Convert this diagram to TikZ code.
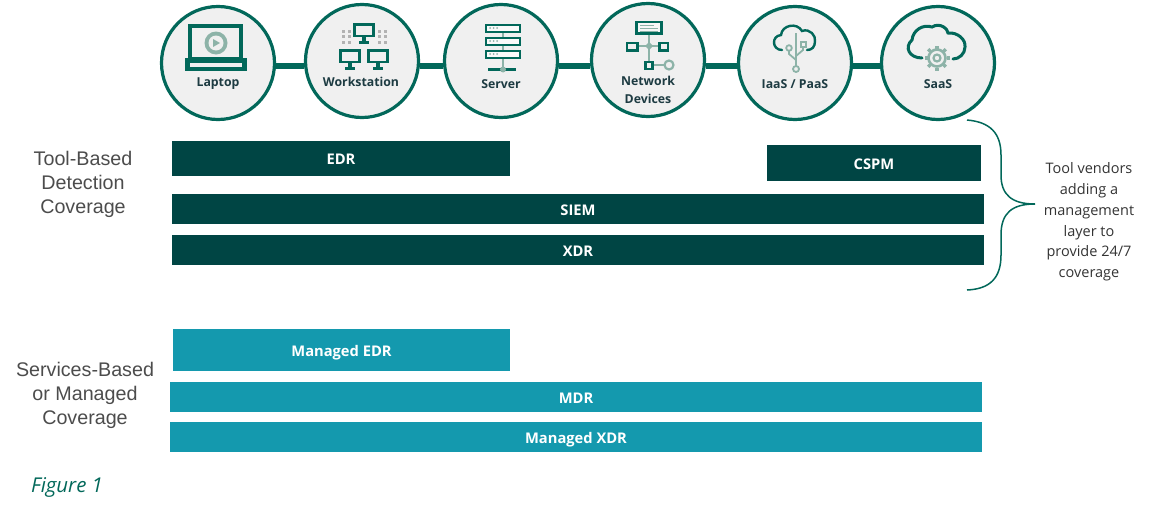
\documentclass[tikz,border=0pt]{standalone}
\usepackage{fontspec}
\setmainfont{Open Sans}
\newfontfamily\arialfont{Liberation Sans}
\usetikzlibrary{positioning}
\definecolor{ringgreen}{HTML}{02685A}
\definecolor{icongrey}{HTML}{8DB3A8}
\definecolor{bardark}{HTML}{004544}
\definecolor{barteal}{HTML}{1499AE}
\definecolor{labeltext}{HTML}{1D3B42}
\tikzset{asset node/.style={circle,draw=ringgreen,line width=3.2pt,fill=black!6,minimum size=113pt,inner sep=0pt}}
\tikzset{asset label/.style={font=\bfseries\fontsize{12.3}{17.5}\selectfont,text=labeltext,align=center,inner sep=0pt}}
\tikzset{tool bar/.style={fill=bardark,text=white,font=\bfseries\fontsize{14.7}{16}\selectfont,inner sep=0pt,text height=12pt,text depth=0pt}}
\tikzset{service bar/.style={fill=barteal,text=white,font=\bfseries\fontsize{14.7}{16}\selectfont,inner sep=0pt,text height=12pt,text depth=0pt}}
\tikzset{side label/.style={font=\arialfont\fontsize{19.7}{24}\selectfont,text=black!70,align=center,inner sep=0pt}}
\tikzset{icon line/.style={draw=ringgreen,line width=2.8pt}}
\tikzset{icon grey/.style={draw=icongrey,line width=1.8pt}}
\tikzset{link line/.style={draw=ringgreen,line width=6pt}}

\begin{document}
\begin{tikzpicture}[x=1pt,y=-1pt]
\useasboundingbox (0,0) rectangle (1161,525);

% circles for the assets
\node[asset node] (laptop) at (218,63) {};
\node[asset node] (workstation) at (362,61) {};
\node[asset node] (server) at (501,61) {};
\node[asset node] (network) at (648,60) {};
\node[asset node] (iaas) at (795,63) {};
\node[asset node] (saas) at (938,63) {};

% links between circles
\draw[link line] (laptop.east |- 0,66) -- (workstation.west |- 0,66);
\draw[link line] (workstation.east |- 0,66) -- (server.west |- 0,66);
\draw[link line] (server.east |- 0,66) -- (network.west |- 0,66);
\draw[link line] (network.east |- 0,66) -- (iaas.west |- 0,66);
\draw[link line] (iaas.east |- 0,66) -- (saas.west |- 0,66);

% circle labels
\node[asset label] (laptoptext) at (218,84) {Laptop};
\node[asset label] (workstationtext) at (361,82) {Workstation};
\node[asset label] (servertext) at (501,84) {Server};
\node[asset label] (networktext) at (648,90) {Network\\Devices};
\node[asset label] (iaastext) at (795,84) {IaaS / PaaS};
\node[asset label] (saastext) at (938,84) {SaaS};

% laptop icon
\draw[ringgreen,line width=3.6pt] (189.8,25.8) rectangle (241.2,59);
\fill[ringgreen] (185,58) rectangle (247,71);
\fill[black!6] (190,63) rectangle (242,67);
\fill[icongrey] (216,43) circle (11.5);
\fill[black!6] (216,43) circle (7.5);
\fill[icongrey] (213,39) -- (220,43) -- (213,47) -- cycle;

% workstation icon
\foreach \x/\y in {364/23,350/49,378/49}{
    \draw[icon line] (\x-9.5,\y+1.5) rectangle (\x+9.5,\y+13);
    \fill[ringgreen] (\x-2,\y+14) rectangle (\x+2,\y+18);
    \fill[ringgreen] (\x-5,\y+18) rectangle (\x+5,\y+21);
}
\foreach \x in {343,349,379,385}
\foreach \y in {31,36,42}{
    \fill[black!30] (\x-1.5,\y-1.5) rectangle (\x+1.5,\y+1.5);
}

% server icon
\draw[icon grey] (503,32) -- (503,69);
\foreach \y in {24,37,50}{
    \draw[ringgreen,line width=2pt,fill=black!2] (486,\y+0.5) rectangle (519.5,\y+7.5);
    \foreach \x in {490,493.5,497}{
        \fill[icongrey] (\x,\y+4) circle (1);
    }
}
\draw[ringgreen,line width=2.4pt] (488,69.5) -- (516,69.5);
\fill[icongrey] (503,69.5) circle (3);

% network icon
\draw[icon grey] (649,34) -- (649,61);
\draw[icon grey] (638,46) -- (658,46);
\draw[icon grey] (653,65) -- (664,65);
\draw[ringgreen,line width=2.4pt,fill=black!3] (636.5,22) rectangle (661.5,33.5);
\draw[icongrey,line width=0.8pt] (640,25) -- (654,25) (640,28) -- (658,28) (640,31) -- (658,31);
\draw[icon line,fill=black!6] (627,43) rectangle (637.5,50.5);
\draw[icon line,fill=black!6] (659.5,43) rectangle (668,50.5);
\draw[icon line,fill=black!6] (645.5,62) rectangle (652.5,69);
\fill[icongrey] (649,42) -- (653,46) -- (649,50) -- (645,46) -- cycle;
\draw[icon grey,line width=2.2pt,fill=black!6] (669,65) circle (4.5);

% iaas icon
\draw[icon line,line width=2.4pt,line cap=round] (782,50) .. controls (772,50) and (771,36) .. (781,35) .. controls (782,25) and (797,22) .. (802,31) .. controls (810,28) and (816,36) .. (815,41) .. controls (815,47) and (812,50) .. (807,50);
\draw[icon grey] (796,33) -- (796,66);
\draw[icon grey] (789,51) -- (789,54) -- (796,60);
\draw[icon grey] (803,47) -- (803,50) -- (796,56);
\draw[icon grey] (789,48) circle (2.8);
\draw[icon grey] (801,42) rectangle (806,47);
\draw[icon grey,fill=black!6] (796,69) circle (3);

% saas icon
\draw[ringgreen,line width=3pt,line cap=round] (922,58) .. controls (909,58) and (904,47) .. (912,40) .. controls (913,30) and (923,24) .. (932,27) .. controls (940,22) and (948,29) .. (948,33) .. controls (958,32) and (966,40) .. (965,47) .. controls (965,54) and (959,59) .. (953,59);
\foreach \a in {0,45,...,315}{
    \draw[icongrey,line width=3.4pt] (937,58) ++(\a:9.5) -- ++(\a:3);
}
\draw[icongrey,line width=2.6pt] (937,58) circle (8.5);
\draw[icongrey,line width=2.2pt] (937,58) circle (3.5);

% tool bars
\node[tool bar,minimum width=338pt,minimum height=35pt] (edr) at (341,158.5) {EDR};
\node[tool bar,minimum width=214pt,minimum height=36pt] (cspm) at (874,163) {CSPM};
\node[tool bar,minimum width=812pt,minimum height=30pt] (siem) at (578,209) {SIEM};
\node[tool bar,minimum width=812pt,minimum height=30pt] (xdr) at (578,250) {XDR};

% service bars
\node[service bar,minimum width=337pt,minimum height=42pt] (medr) at (341.5,350) {Managed EDR};
\node[service bar,minimum width=812pt,minimum height=30pt] (mdr) at (576,397) {MDR};
\node[service bar,minimum width=812pt,minimum height=30pt] (mxdr) at (576,437) {Managed XDR};

% left labels
\node[side label] (toolcover) at (83,184) {Tool-Based\\Detection\\Coverage};
\node[side label] (servicecover) at (85,395) {Services-Based\\or Managed\\Coverage};
\node[font=\itshape\fontsize{20.4}{22}\selectfont,text=ringgreen,inner sep=0pt] (figlabel) at (67,487) {Figure 1};

% brace and note
\node[font=\fontsize{14.5}{20.8}\selectfont,text=black!80,align=center,inner sep=0pt] (note) at (1089,222) {Tool vendors\\adding a\\management\\layer to\\provide 24/7\\coverage};
\coordinate (bracetop) at (967,120);
\coordinate (bracebot) at (967,290);
\coordinate (bracetip) at (1035,204);
\draw[ringgreen,line width=1.5pt] (bracetop) .. controls (990,122) and (1001,133) .. (1001,155) -- (1001,175) .. controls (1001,195) and (1012,204) .. (bracetip) .. controls (1012,204) and (1001,213) .. (1001,235) -- (1001,255) .. controls (1001,278) and (990,289) .. (bracebot);
\end{tikzpicture}
\end{document}
